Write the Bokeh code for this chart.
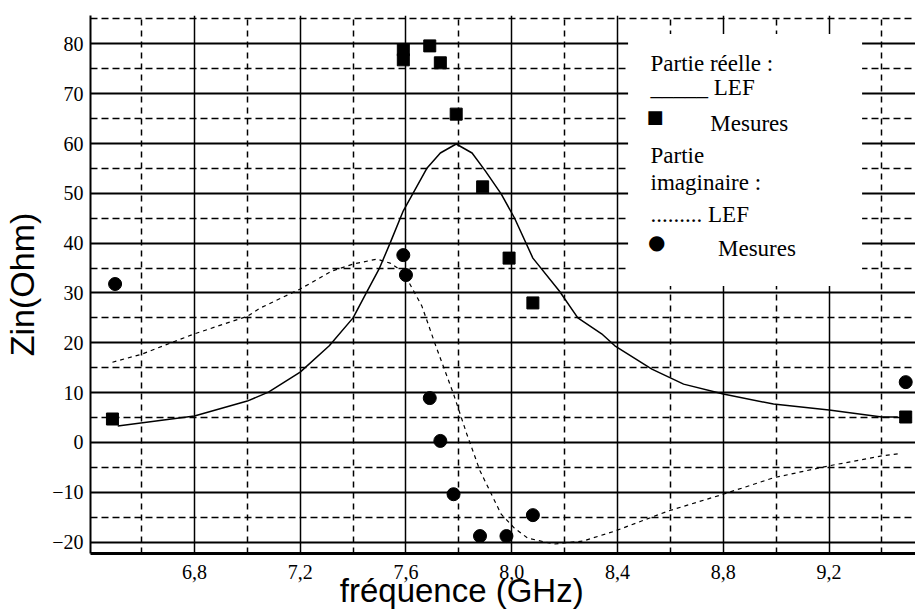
from bokeh.plotting import figure
from bokeh.models import FixedTicker, CustomJSTickFormatter, Label, BoxAnnotation, Range1d
from bokeh.embed import file_html
from bokeh.resources import INLINE

# ---------------- data ----------------
# Partie réelle : LEF (solid curve)
freq_re_lef = [6.51, 6.8, 7.0, 7.08, 7.2, 7.31, 7.4, 7.45, 7.5, 7.54, 7.59, 7.68, 7.73,
               7.79, 7.85, 7.9, 7.96, 8.01, 8.08, 8.18, 8.25, 8.34, 8.39, 8.53, 8.65,
               8.8, 8.99, 9.2, 9.4, 9.46]
re_lef = [3.3, 5.3, 8.3, 10.1, 14.1, 19.4, 25.0, 30.0, 35.0, 40.0, 46.5, 55.1, 58.1,
          59.9, 58.1, 54.5, 49.9, 45.1, 37.0, 30.4, 25.0, 21.8, 19.4, 14.7, 11.7,
          9.7, 7.7, 6.5, 5.1, 5.1]

# Partie réelle : Mesures (squares)
freq_re_meas = [6.49, 7.59, 7.59, 7.69, 7.73, 7.79, 7.89, 7.99, 8.08, 9.49]
re_meas = [4.7, 78.8, 76.8, 79.6, 76.2, 65.9, 51.3, 37.0, 28.0, 5.1]

# Partie imaginaire : LEF (dotted curve)
freq_im_lef = [6.49, 6.6, 6.8, 7.0, 7.05, 7.2, 7.32, 7.4, 7.49, 7.54, 7.59, 7.66, 7.71,
               7.78, 7.83, 7.88, 7.96, 8.01, 8.06, 8.16, 8.27, 8.39, 8.59, 8.8, 8.99,
               9.2, 9.4, 9.46]
im_lef = [16.1, 17.7, 21.8, 25.3, 27.0, 30.8, 34.4, 35.8, 36.8, 36.0, 34.2, 27.4, 19.8,
          9.7, 1.7, -5.7, -14.4, -17.2, -19.2, -20.4, -19.8, -17.8, -13.8, -10.4, -7.1,
          -4.7, -2.7, -2.3]

# Partie imaginaire : Mesures (circles)
freq_im_meas = [6.50, 7.59, 7.60, 7.69, 7.73, 7.78, 7.88, 7.98, 8.08, 9.49]
im_meas = [31.8, 37.6, 33.6, 8.9, 0.3, -10.4, -18.8, -18.8, -14.6, 12.1]

# ticks
x_major = [6.8, 7.2, 7.6, 8.0, 8.4, 8.8, 9.2]
x_minor = [6.6, 7.0, 7.4, 7.8, 8.2, 8.6, 9.0, 9.4]
y_major = [-20, -10, 0, 10, 20, 30, 40, 50, 60, 70, 80]
y_minor = [-15, -5, 5, 15, 25, 35, 45, 55, 65, 75, 85]

# ---------------- figure ----------------
p = figure(width=915, height=613, output_backend="svg", toolbar_location=None,
           x_range=Range1d(6.407, 9.527), y_range=Range1d(-22.3, 85.7),
           min_border_left=89, min_border_right=0, min_border_top=15,
           min_border_bottom=60)
p.outline_line_color = None
p.background_fill_color = "white"

p.xaxis.ticker = FixedTicker(ticks=x_major, minor_ticks=x_minor)
p.yaxis.ticker = FixedTicker(ticks=y_major, minor_ticks=y_minor)
p.xaxis.formatter = CustomJSTickFormatter(code="return tick.toFixed(1).replace('.', ',');")

for ax in (p.xaxis, p.yaxis):
    ax.axis_line_color = "black"
    ax.major_tick_out = 0
    ax.major_tick_in = 5
    ax.minor_tick_out = 0
    ax.minor_tick_in = 4
    ax.major_tick_line_color = "black"
    ax.minor_tick_line_color = "black"
    ax.major_label_text_font = "Liberation Sans Narrow"
    ax.major_label_text_font_size = "20px"
    ax.major_label_text_color = "black"

p.xaxis.axis_line_width = 3
p.yaxis.axis_line_width = 2
p.xaxis.major_label_standoff = 11
p.yaxis.major_label_standoff = 7

p.yaxis.axis_label = "Zin(Ohm)"
p.yaxis.axis_label_text_font = "Liberation Sans"
p.yaxis.axis_label_text_font_size = "34px"
p.yaxis.axis_label_text_font_style = "normal"
p.yaxis.axis_label_text_color = "black"
p.yaxis.axis_label_standoff = 8

# x axis title; trailing no-break spaces shift it left like in the original
p.xaxis.axis_label = "fréquence (GHz)" + "\u00a0" * 9
p.xaxis.axis_label_text_font = "Liberation Sans"
p.xaxis.axis_label_text_font_size = "33px"
p.xaxis.axis_label_text_font_style = "normal"
p.xaxis.axis_label_text_color = "black"
p.xaxis.axis_label_standoff = -10

p.xgrid.grid_line_color = "black"
p.xgrid.grid_line_width = 1.5
p.xgrid.minor_grid_line_color = "black"
p.xgrid.minor_grid_line_width = 1.5
p.xgrid.minor_grid_line_dash = "6 5"
p.ygrid.grid_line_color = "black"
p.ygrid.grid_line_width = 2
p.ygrid.minor_grid_line_color = "black"
p.ygrid.minor_grid_line_width = 1.5
p.ygrid.minor_grid_line_dash = "7 4"

# curves and measurements
p.line(freq_re_lef, re_lef, line_color="black", line_width=1.5)
p.line(freq_im_lef, im_lef, line_color="black", line_width=1.2, line_dash="4 4")
p.scatter(freq_re_meas, re_meas, marker="square", size=12, color="black")
p.scatter(freq_im_meas, im_meas, marker="circle", size=13, color="black")

# legend box (white, hides grid)
p.add_layout(BoxAnnotation(left=8.44, right=9.325, top=82.0, bottom=31.4,
                           fill_color="white", fill_alpha=1.0, line_color=None))

serif = "Liberation Serif"
def lab(x, y, t, font=serif, size="23px"):
    p.add_layout(Label(x=x, y=y, text=t, text_font=font, text_font_size=size,
                       text_color="black", text_baseline="middle", text_align="left"))

lab(8.525, 76.0, "Partie réelle :")
lab(8.525, 71.3, "_____ LEF")
lab(8.51, 65.5, "■", font="DejaVu Sans", size="18px")
lab(8.751, 64.1, "Mesures")
lab(8.525, 57.5, "Partie")
lab(8.525, 52.2, "imaginaire :")
lab(8.525, 45.8, "......... LEF")
lab(8.515, 40.2, "●", font="DejaVu Sans", size="20px")
lab(8.78, 39.0, "Mesures")

open("out.html", "w").write(file_html(p, INLINE))
